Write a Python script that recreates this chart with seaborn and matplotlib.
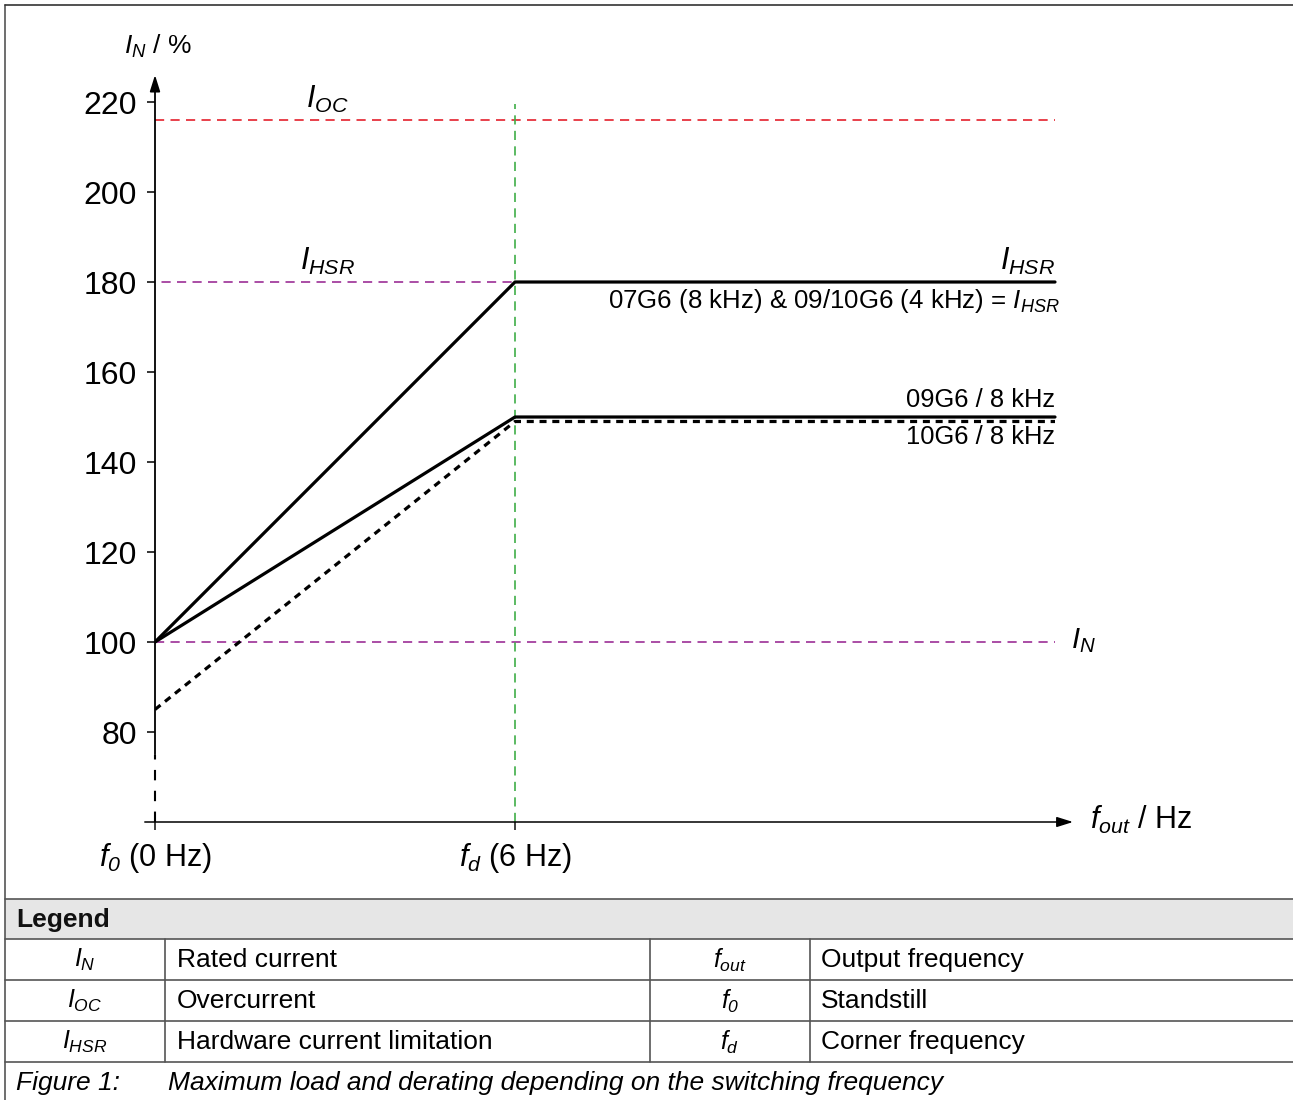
import numpy as np
import pandas as pd
import matplotlib
matplotlib.use("Agg")
import matplotlib.pyplot as plt
import seaborn as sns
from matplotlib.patches import Rectangle
from matplotlib.lines import Line2D

# data
f_hz = [0, 6, 15]
i_07g6 = [100, 180, 180]      # 07G6 (8 kHz) & 09/10G6 (4 kHz) = IHSR
i_09g6 = [100, 150, 150]      # 09G6 / 8 kHz
i_10g6 = [85, 149, 149]       # 10G6 / 8 kHz
i_oc = 216
i_hsr = 180
i_n = 100
f_d = 6
y_ticks = [80, 100, 120, 140, 160, 180, 200, 220]
x_ticks = [0, 6]
x_tick_labels = [r"$f_{\mathsf{0}}$ (0 Hz)", r"$f_d$ (6 Hz)"]

legend_rows = [
    (r"$I_N$", "Rated current", r"$f_{out}$", "Output frequency"),
    (r"$I_{OC}$", "Overcurrent", r"$f_{\mathsf{0}}$", "Standstill"),
    (r"$I_{HSR}$", "Hardware current limitation", r"$f_d$", "Corner frequency"),
]

sns.set_theme(style="white")
plt.rcParams['font.family'] = ['Liberation Sans', 'DejaVu Sans']
plt.rcParams['text.color'] = 'black'
plt.rcParams['axes.labelcolor'] = 'black'
plt.rcParams['xtick.color'] = 'black'
plt.rcParams['ytick.color'] = 'black'
plt.rcParams['mathtext.fontset'] = 'custom'
plt.rcParams['mathtext.rm'] = 'Liberation Sans'
plt.rcParams['mathtext.it'] = 'Liberation Sans:italic'
plt.rcParams['mathtext.sf'] = 'Liberation Sans:italic'
plt.rcParams['mathtext.bf'] = 'Liberation Sans:bold'

W, H = 1293, 1100
fig = plt.figure(figsize=(W / 100, H / 100), dpi=100)
fig.patch.set_facecolor('white')

def fx(px):
    return px / W

def fy(py):
    return 1 - py / H

# axes: x=0 at px 155, 60 px per Hz; y=60 at px 822, 4.5 px per %
ax = fig.add_axes([fx(155), fy(822), 1050 / W, 765 / H])
ax.set_xlim(0, 17.5)
ax.set_ylim(60, 230)
for s in ax.spines.values():
    s.set_visible(False)
ax.patch.set_alpha(0)

ax.set_yticks(y_ticks)
ax.set_yticklabels([str(v) for v in y_ticks])
ax.set_xticks(x_ticks)
ax.set_xticklabels(x_tick_labels)
ax.tick_params(axis='y', left=True, length=6, width=1.1, color='black',
               labelsize=23, pad=7, labelcolor='black')
ax.tick_params(axis='x', bottom=True, length=6, width=1.3, color='#333333',
               labelsize=22, pad=8, labelcolor='black')
ax.grid(False)

# reference lines
purple = '#9c2f96'
ax.plot([0, 15], [i_oc, i_oc], color='#e4202c', lw=1.2, ls=(0, (5.5, 3.8)))
ax.plot([-0.15, f_d], [i_hsr, i_hsr], color=purple, lw=1.2, ls=(0, (5.5, 3.8)))
ax.plot([0, 15], [i_n, i_n], color=purple, lw=1.2, ls=(0, (5.5, 3.8)))
ax.plot([f_d, f_d], [60, 219.5], color='#3fae48', lw=1.2, ls=(0, (5.5, 3.8)))

# derating curves
df = pd.DataFrame({
    'f': f_hz * 3,
    'i': i_07g6 + i_09g6 + i_10g6,
    'curve': ['07G6'] * 3 + ['09G6'] * 3 + ['10G6'] * 3,
})
sns.lineplot(data=df[df.curve == '07G6'], x='f', y='i', color='black', lw=2.3,
             sort=False, estimator=None, ax=ax)
sns.lineplot(data=df[df.curve == '09G6'], x='f', y='i', color='black', lw=2.3,
             sort=False, estimator=None, ax=ax)
sns.lineplot(data=df[df.curve == '10G6'], x='f', y='i', color='black', lw=2.3,
             ls=(0, (2.2, 1.8)), sort=False, estimator=None, ax=ax)
ax.set_xlabel('')
ax.set_ylabel('')

# axis lines with arrows
ax.plot([0, 0], [60, 75], color='black', lw=1.5, ls=(0, (5, 5)), clip_on=False)
ax.annotate('', xy=(0, 226), xytext=(0, 75), annotation_clip=False,
            arrowprops=dict(arrowstyle='-|>,head_length=0.7,head_width=0.22',
                            color='black', lw=1.3, mutation_scale=14, shrinkA=0, shrinkB=0))
ax.annotate('', xy=(15.3, 60), xytext=(-0.17, 60), annotation_clip=False,
            arrowprops=dict(arrowstyle='-|>,head_length=0.7,head_width=0.22',
                            color='black', lw=1.1, mutation_scale=14, shrinkA=0, shrinkB=0))

# labels
ax.text(0.05, 232.3, r"$I_N$ / %", ha='center', va='center', fontsize=19, clip_on=False)
ax.text(2.87, 220.5, r"$I_{OC}$", ha='center', va='center', fontsize=22)
ax.text(2.87, 184.5, r"$I_{HSR}$", ha='center', va='center', fontsize=22)
ax.text(15.0, 184.5, r"$I_{HSR}$", ha='right', va='center', fontsize=22)
ax.text(15.07, 175.8, r"07G6 (8 kHz) & 09/10G6 (4 kHz) = $I_{HSR}$", ha='right',
        va='center', fontsize=18.6)
ax.text(15.0, 153.8, "09G6 / 8 kHz", ha='right', va='center', fontsize=18.4)
ax.text(15.0, 145.6, "10G6 / 8 kHz", ha='right', va='center', fontsize=18.4)
ax.text(15.27, 100.3, r"$I_N$", ha='left', va='center', fontsize=21)
ax.text(15.58, 60.4, r"$f_{out}$ / Hz", ha='left', va='center', fontsize=22, clip_on=False)

# frame and legend table
edge = '#555555'
fig.add_artist(Rectangle((fx(5), fy(939)), fx(1300) - fx(5), fy(899) - fy(939),
                         transform=fig.transFigure, facecolor='#e6e6e6',
                         edgecolor='none', zorder=0))
fig.add_artist(Line2D([fx(5), fx(5)], [fy(5), fy(1100)], color=edge, lw=1.2))
fig.add_artist(Line2D([fx(5), fx(1293)], [fy(5), fy(5)], color='#333333', lw=1.2))
for yy in [899, 939, 980, 1021, 1062]:
    fig.add_artist(Line2D([fx(5), fx(1293)], [fy(yy), fy(yy)], color=edge, lw=1.2))
for xx in [165, 650, 810]:
    fig.add_artist(Line2D([fx(xx), fx(xx)], [fy(939), fy(1062)], color=edge, lw=1.2))

fig.text(fx(16), fy(920), "Legend", ha='left', va='center', fontsize=19,
         fontweight='bold', color='#111111')
row_mid = [960, 1001, 1042]
for (sym1, txt1, sym2, txt2), ym in zip(legend_rows, row_mid):
    fig.text(fx(85), fy(ym), sym1, ha='center', va='center', fontsize=18)
    fig.text(fx(177), fy(ym), txt1, ha='left', va='center', fontsize=19)
    fig.text(fx(730), fy(ym), sym2, ha='center', va='center', fontsize=18)
    fig.text(fx(821), fy(ym), txt2, ha='left', va='center', fontsize=19)

fig.text(fx(16), fy(1083), "Figure 1:", ha='left', va='center', fontsize=19, style='italic')
fig.text(fx(168), fy(1083), "Maximum load and derating depending on the switching frequency",
         ha='left', va='center', fontsize=19, style='italic')

fig.savefig('out.png', dpi=100)
